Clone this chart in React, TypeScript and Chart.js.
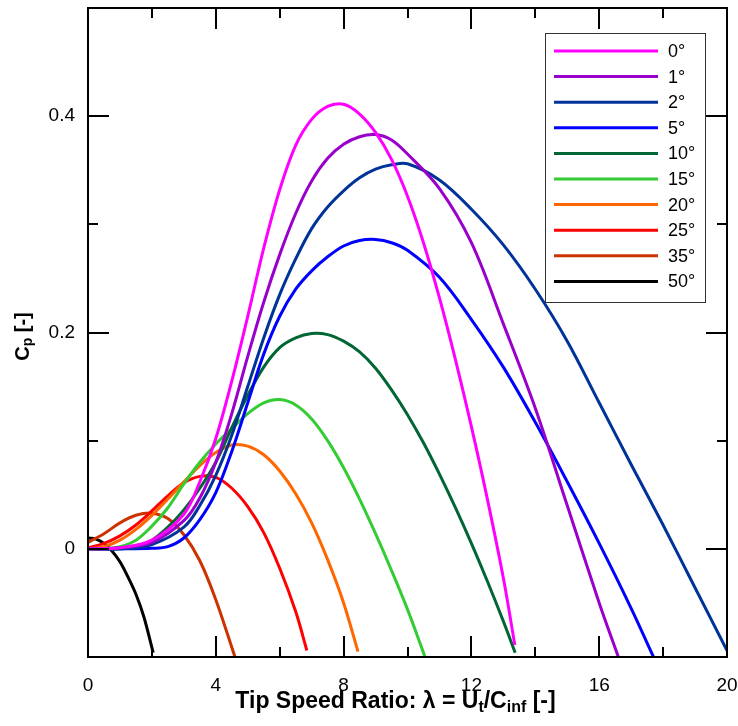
import React, { useEffect, useRef } from 'react';
import { Chart, registerables } from 'chart.js';

Chart.register(...registerables);

const seriesLabels = ['0°', '1°', '2°', '5°', '10°', '15°', '20°', '25°', '35°', '50°'];
const seriesColors = ['#ff00ff', '#9900cc', '#003399', '#0000ff', '#006633', '#33cc33', '#ff6600', '#ff0000', '#cc3300', '#000000'];

const x0 = [0, 1, 2, 3, 3.5, 4, 4.5, 5, 5.5, 6, 6.5, 7, 7.5, 8, 8.5, 9, 9.5, 10, 10.5, 11, 11.5, 12, 12.5, 13, 13.36];
const y0 = [0, 0.001, 0.008, 0.032, 0.062, 0.102, 0.155, 0.215, 0.278, 0.332, 0.373, 0.397, 0.409, 0.411, 0.402, 0.385, 0.36, 0.326, 0.283, 0.232, 0.175, 0.113, 0.046, -0.027, -0.089];

const x1 = [0, 1, 2, 3, 3.5, 4, 4.5, 5, 5.5, 6, 6.5, 7, 7.5, 8, 8.5, 9, 9.5, 10, 11, 12, 13, 14, 15, 16, 16.6];
const y1 = [0, 0.001, 0.006, 0.026, 0.047, 0.08, 0.125, 0.178, 0.228, 0.272, 0.31, 0.34, 0.361, 0.374, 0.381, 0.383, 0.378, 0.365, 0.333, 0.283, 0.208, 0.13, 0.04, -0.05, -0.1];

const x2 = [0, 1, 2, 3, 3.5, 4, 4.5, 5, 5.5, 6, 6.5, 7, 7.5, 8, 8.5, 9, 9.5, 10, 11, 12, 13, 14, 15, 16, 17, 18, 19, 20];
const y2 = [0, 0, 0.004, 0.02, 0.04, 0.068, 0.105, 0.15, 0.195, 0.235, 0.268, 0.296, 0.316, 0.331, 0.343, 0.351, 0.355, 0.356, 0.341, 0.314, 0.281, 0.24, 0.192, 0.135, 0.078, 0.022, -0.036, -0.094];

const x5 = [0, 1, 2, 2.5, 3, 3.5, 4, 4.5, 5, 5.5, 6, 6.5, 7, 7.5, 8, 8.5, 9, 9.5, 10, 11, 12, 13, 14, 15, 16, 17, 17.7];
const y5 = [0, 0, 0.0005, 0.002, 0.01, 0.027, 0.052, 0.09, 0.135, 0.18, 0.215, 0.24, 0.257, 0.27, 0.28, 0.285, 0.286, 0.283, 0.276, 0.251, 0.212, 0.168, 0.117, 0.062, 0.005, -0.055, -0.1];

const x10 = [0, 1, 1.5, 2, 2.5, 3, 3.5, 4, 4.5, 5, 5.5, 6, 6.5, 7, 7.5, 8, 8.5, 9, 9.5, 10, 10.5, 11, 11.5, 12, 12.5, 13, 13.37];
const y10 = [0, 0, 0.002, 0.008, 0.02, 0.036, 0.056, 0.08, 0.112, 0.142, 0.168, 0.186, 0.195, 0.199, 0.198, 0.192, 0.182, 0.167, 0.147, 0.124, 0.098, 0.069, 0.038, 0.005, -0.03, -0.067, -0.096];

const x15 = [0, 0.5, 1, 1.5, 2, 2.5, 3, 3.5, 4, 4.5, 5, 5.5, 6, 6.5, 7, 7.5, 8, 8.5, 9, 9.5, 10, 10.55];
const y15 = [0, 0, 0.002, 0.008, 0.021, 0.038, 0.06, 0.08, 0.097, 0.111, 0.125, 0.135, 0.138, 0.133, 0.12, 0.1, 0.075, 0.046, 0.014, -0.02, -0.056, -0.1];

const x20 = [0, 0.5, 1, 1.5, 2, 2.5, 3, 3.5, 4, 4.5, 5, 5.5, 6, 6.5, 7, 7.5, 8, 8.45];
const y20 = [0, 0.002, 0.008, 0.018, 0.031, 0.046, 0.062, 0.077, 0.089, 0.096, 0.095, 0.087, 0.072, 0.051, 0.024, -0.01, -0.05, -0.095];

const x25 = [0, 0.5, 1, 1.5, 2, 2.5, 3, 3.5, 4, 4.5, 5, 5.5, 6, 6.5, 6.85];
const y25 = [0.001, 0.005, 0.012, 0.022, 0.035, 0.049, 0.061, 0.067, 0.066, 0.056, 0.039, 0.015, -0.018, -0.058, -0.094];

const x35 = [0, 0.5, 1, 1.5, 2, 2.5, 3, 3.5, 4, 4.6];
const y35 = [0.006, 0.014, 0.024, 0.031, 0.033, 0.028, 0.013, -0.011, -0.047, -0.1];

const x50 = [0, 0.25, 0.5, 0.75, 1, 1.25, 1.5, 1.75, 2.04];
const y50 = [0.01, 0.009, 0.005, -0.002, -0.012, -0.026, -0.042, -0.063, -0.096];

const seriesX = [x0, x1, x2, x5, x10, x15, x20, x25, x35, x50];
const seriesY = [y0, y1, y2, y5, y10, y15, y20, y25, y35, y50];

const xMin = 0, xMax = 20, xStep = 2, xLabelEvery = 4;
const yMin = -0.1, yMax = 0.5, yStep = 0.1, yLabelEvery = 0.2;

const FONT = "'Liberation Sans', Arial, Helvetica, sans-serif";

type Part = { t: string; sub?: boolean };

function drawRich(ctx: CanvasRenderingContext2D, parts: Part[], cx: number, cy: number, size: number, subSize: number, subDrop: number) {
  const main = `bold ${size}px ${FONT}`;
  const sub = `bold ${subSize}px ${FONT}`;
  let total = 0;
  const widths = parts.map((p) => {
    ctx.font = p.sub ? sub : main;
    const w = ctx.measureText(p.t).width;
    total += w;
    return w;
  });
  let x = cx - total / 2;
  ctx.textBaseline = 'middle';
  ctx.textAlign = 'left';
  parts.forEach((p, i) => {
    ctx.font = p.sub ? sub : main;
    ctx.fillText(p.t, x, p.sub ? cy + subDrop : cy);
    x += widths[i];
  });
}

const isMultiple = (v: number, m: number) => Math.abs(v / m - Math.round(v / m)) < 1e-6;

const framePlugin = {
  id: 'framePlugin',
  afterDatasetsDraw(chart: any) {
    const { ctx, chartArea } = chart;
    const { left, right, top, bottom } = chartArea;
    const xs = chart.scales.x;
    const ys = chart.scales.y;
    ctx.save();
    ctx.strokeStyle = '#000';
    ctx.lineWidth = 2;
    ctx.lineCap = 'butt';
    ctx.beginPath();
    ctx.rect(left, top, right - left, bottom - top);
    ctx.stroke();
    ctx.beginPath();
    xs.ticks.forEach((t: any) => {
      const px = Math.round(xs.getPixelForValue(t.value));
      const len = isMultiple(t.value, xLabelEvery) ? 21 : 10;
      ctx.moveTo(px, bottom);
      ctx.lineTo(px, bottom - len);
      ctx.moveTo(px, top);
      ctx.lineTo(px, top + len);
    });
    ys.ticks.forEach((t: any) => {
      const py = Math.round(ys.getPixelForValue(t.value));
      const len = isMultiple(t.value, yLabelEvery) ? 21 : 10;
      ctx.moveTo(left, py);
      ctx.lineTo(left + len, py);
      ctx.moveTo(right, py);
      ctx.lineTo(right - len, py);
    });
    ctx.stroke();
    ctx.restore();
  },
  afterDraw(chart: any) {
    const { ctx, chartArea } = chart;
    const { left, right, top, bottom } = chartArea;
    ctx.save();
    ctx.fillStyle = '#000';
    // x title
    drawRich(
      ctx,
      [
        { t: 'Tip Speed Ratio: λ = U' },
        { t: 't', sub: true },
        { t: '/C' },
        { t: 'inf', sub: true },
        { t: ' [-]' },
      ],
      (left + right) / 2 - 12,
      bottom + 45,
      23,
      16,
      6
    );
    // y title
    ctx.translate(23, (top + bottom) / 2 + 4);
    ctx.rotate(-Math.PI / 2);
    drawRich(ctx, [{ t: 'C' }, { t: 'p', sub: true }, { t: ' [-]' }], 0, 0, 20, 14, 5);
    ctx.restore();

    // legend
    ctx.save();
    const bx = right - 182;
    const by = top + 25;
    const bw = 160;
    const bh = 269;
    ctx.fillStyle = '#fff';
    ctx.fillRect(bx, by, bw, bh);
    ctx.strokeStyle = '#333';
    ctx.lineWidth = 1;
    ctx.strokeRect(bx + 0.5, by + 0.5, bw, bh);
    chart.data.datasets.forEach((ds: any, i: number) => {
      const ly = by + 18 + i * 25.6;
      ctx.strokeStyle = ds.borderColor;
      ctx.lineWidth = 3;
      ctx.beginPath();
      ctx.moveTo(bx + 9, ly);
      ctx.lineTo(bx + 113, ly);
      ctx.stroke();
      ctx.fillStyle = '#000';
      ctx.font = `18px ${FONT}`;
      ctx.textAlign = 'left';
      ctx.textBaseline = 'middle';
      ctx.fillText(ds.label, bx + 123, ly + 1);
    });
    ctx.restore();
  },
};

export default function App() {
  const ref = useRef<HTMLCanvasElement | null>(null);
  useEffect(() => {
    document.body.style.margin = '0';
    if (!ref.current) return;
    const datasets = seriesLabels.map((label, i) => ({
      label,
      data: seriesX[i].map((x, j) => ({ x, y: seriesY[i][j] })),
      borderColor: seriesColors[i],
      backgroundColor: seriesColors[i],
      borderWidth: 3,
      pointRadius: 0,
      fill: false,
      tension: 0.35,
    }));
    const chart = new Chart(ref.current, {
      type: 'line',
      data: { datasets },
      options: {
        animation: false,
        responsive: false,
        maintainAspectRatio: false,
        layout: { padding: { left: 0, top: 8, right: 11, bottom: 0 } },
        plugins: { legend: { display: false }, tooltip: { enabled: false } },
        scales: {
          x: {
            type: 'linear',
            min: xMin,
            max: xMax,
            grid: { display: false, drawTicks: false },
            border: { display: false },
            ticks: {
              stepSize: xStep,
              autoSkip: false,
              maxRotation: 0,
              padding: 17,
              color: '#000',
              font: { family: FONT, size: 19 },
              callback: (v: any) => (isMultiple(Number(v), xLabelEvery) ? String(v) : ''),
            },
            afterFit: (s: any) => {
              s.height = 69;
              s.paddingLeft = 0;
              s.paddingRight = 0;
              s.paddingTop = 0;
              s.paddingBottom = 0;
            },
          },
          y: {
            type: 'linear',
            min: yMin,
            max: yMax,
            grid: { display: false, drawTicks: false },
            border: { display: false },
            ticks: {
              stepSize: yStep,
              autoSkip: false,
              padding: 13,
              color: '#000',
              font: { family: FONT, size: 19 },
              callback: (v: any) => {
                const n = Number(v);
                if (!isMultiple(n, yLabelEvery) || n < -1e-9) return '';
                return Math.abs(n) < 1e-9 ? '0' : String(Math.round(n * 10) / 10);
              },
            },
            afterFit: (s: any) => {
              s.width = 88;
              s.paddingLeft = 0;
              s.paddingRight = 0;
              s.paddingTop = 0;
              s.paddingBottom = 0;
            },
          },
        },
      },
      plugins: [framePlugin],
    });
    return () => chart.destroy();
  }, []);
  return (
    <div style={{ width: 738, height: 726, background: '#fff' }}>
      <canvas ref={ref} width={738} height={726} style={{ display: 'block' }} />
    </div>
  );
}
